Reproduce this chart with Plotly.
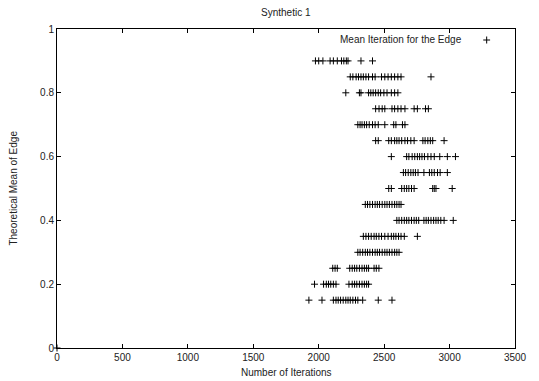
import plotly.graph_objects as go

# Theoretical mean levels (y) and the iteration counts observed (x) for each level
row_090 = [1975, 2000, 2032, 2087, 2112, 2142, 2174, 2192, 2211, 2224, 2323, 2411]
row_085 = [2241, 2261, 2286, 2304, 2323, 2341, 2361, 2381, 2411, 2431, 2480, 2505, 2530, 2555, 2580, 2605, 2629, 2858]
row_080 = [2207, 2311, 2323, 2381, 2398, 2416, 2435, 2455, 2473, 2498, 2522, 2555, 2580, 2605]
row_075 = [2435, 2461, 2485, 2505, 2560, 2580, 2605, 2629, 2659, 2729, 2754, 2816, 2838]
row_070 = [2299, 2316, 2331, 2349, 2366, 2386, 2411, 2431, 2455, 2505, 2573, 2590, 2640, 2659]
row_065 = [2435, 2455, 2535, 2555, 2580, 2597, 2614, 2634, 2659, 2679, 2704, 2729, 2796, 2813, 2834, 2853, 2871, 2958]
row_060 = [2555, 2672, 2689, 2714, 2734, 2754, 2771, 2789, 2808, 2834, 2858, 2883, 2925, 2983, 3045]
row_055 = [2647, 2664, 2684, 2704, 2722, 2739, 2759, 2804, 2846, 2864, 2883, 2908, 2928, 2983]
row_050 = [2535, 2555, 2634, 2654, 2672, 2689, 2709, 2729, 2871, 2883, 2896, 3020]
row_045 = [2356, 2373, 2391, 2411, 2431, 2448, 2465, 2485, 2505, 2522, 2540, 2560, 2580, 2597, 2614, 2629]
row_040 = [2597, 2614, 2634, 2654, 2672, 2689, 2709, 2729, 2746, 2764, 2804, 2821, 2838, 2858, 2878, 2896, 2913, 2933, 2958, 3028]
row_035 = [2341, 2361, 2381, 2401, 2423, 2440, 2460, 2480, 2505, 2530, 2555, 2573, 2590, 2610, 2629, 2654, 2754]
row_030 = [2299, 2316, 2336, 2356, 2373, 2391, 2411, 2431, 2448, 2465, 2485, 2505, 2522, 2540, 2560, 2580, 2597, 2614]
row_025 = [2107, 2125, 2142, 2237, 2256, 2274, 2291, 2311, 2331, 2349, 2366, 2381, 2423, 2440, 2460]
row_020 = [1968, 2037, 2058, 2075, 2092, 2112, 2132, 2231, 2256, 2274, 2291, 2311, 2331, 2349, 2366, 2381]
row_015 = [1925, 2025, 2112, 2132, 2149, 2167, 2187, 2207, 2224, 2241, 2261, 2281, 2299, 2336, 2455, 2560]
row_000 = [0]

rows = {
    0.90: row_090, 0.85: row_085, 0.80: row_080, 0.75: row_075,
    0.70: row_070, 0.65: row_065, 0.60: row_060, 0.55: row_055,
    0.50: row_050, 0.45: row_045, 0.40: row_040, 0.35: row_035,
    0.30: row_030, 0.25: row_025, 0.20: row_020, 0.15: row_015,
    0.00: row_000,
}

xs, ys = [], []
for level, vals in rows.items():
    xs.extend(vals)
    ys.extend([level] * len(vals))

x_ticks = [0, 500, 1000, 1500, 2000, 2500, 3000, 3500]
y_ticks = [0, 0.2, 0.4, 0.6, 0.8, 1]

FONT = "Liberation Sans, Arial, Helvetica, sans-serif"
TXT = "#222222"

fig = go.Figure()
fig.add_trace(go.Scatter(
    x=xs, y=ys, mode="markers",
    name="Mean Iteration for the Edge",
    marker=dict(symbol="cross-thin", size=5, line=dict(width=1, color="black"), color="black"),
    cliponaxis=False, showlegend=False,
))

axis_common = dict(
    showgrid=False, zeroline=False, showline=True, linecolor="black", linewidth=1,
    mirror="ticks", ticks="inside", ticklen=4, tickcolor="black", tickwidth=1,
    tickfont=dict(family=FONT, size=10, color=TXT),
)

fig.update_layout(
    width=539, height=381,
    margin=dict(l=57, r=13, t=29, b=33),
    paper_bgcolor="white", plot_bgcolor="white",
    font=dict(family=FONT, size=10, color=TXT),
    xaxis=dict(range=[0, 3500], tickvals=x_ticks, **axis_common),
    yaxis=dict(range=[0, 1], tickvals=y_ticks, **axis_common),
    showlegend=False,
    annotations=[
        dict(text="Synthetic 1", xref="paper", yref="paper", x=0.5, y=1 + 17 / 319,
             showarrow=False, xanchor="center", yanchor="middle",
             font=dict(family=FONT, size=10, color=TXT)),
        dict(text="Number of Iterations", xref="paper", yref="paper", x=0.5, y=-24 / 319,
             showarrow=False, xanchor="center", yanchor="middle",
             font=dict(family=FONT, size=10, color=TXT)),
        dict(text="Theoretical Mean of Edge", xref="paper", yref="paper", x=-45 / 469, y=0.5,
             showarrow=False, xanchor="center", yanchor="middle", textangle=-90,
             font=dict(family=FONT, size=10, color=TXT)),
        dict(text="Mean Iteration for the Edge", xref="paper", yref="paper",
             x=(474 - 57) / 469, y=(348 - 40) / 319,
             showarrow=False, xanchor="right", yanchor="middle",
             font=dict(family=FONT, size=10, color=TXT)),
    ],
    shapes=[
        dict(type="line", xref="paper", yref="paper",
             x0=(493.5 - 57) / 469, x1=(500.5 - 57) / 469,
             y0=(348 - 40) / 319, y1=(348 - 40) / 319, line=dict(color="black", width=1)),
        dict(type="line", xref="paper", yref="paper",
             x0=(497 - 57) / 469, x1=(497 - 57) / 469,
             y0=(348 - 36.5) / 319, y1=(348 - 43.5) / 319, line=dict(color="black", width=1)),
    ],
)

fig.write_html("out.html",
               config={"displayModeBar": False},
               post_script="document.body.style.margin='0';document.body.style.padding='0';")
